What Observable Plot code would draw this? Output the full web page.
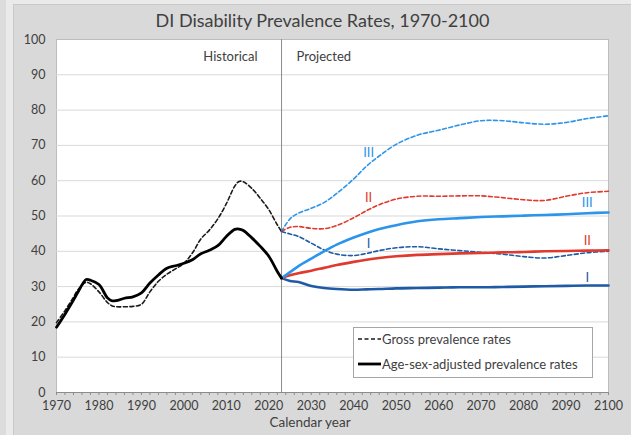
<!DOCTYPE html>
<html>
<head>
<meta charset="utf-8">
<script src="https://cdn.jsdelivr.net/npm/d3@7"></script>
<script src="https://cdn.jsdelivr.net/npm/@observablehq/plot@0.6"></script>
<style>
  html, body { margin: 0; padding: 0; }
  body { width: 631px; height: 435px; background: #dcdcdc; position: relative; overflow: hidden; font-family: Lato, "Open Sans", sans-serif; }
  #strip { position: absolute; left: 6px; top: 0; width: 7px; height: 435px; background: #eaeaea; }
  #panel { position: absolute; left: 13px; top: 4px; width: 618px; height: 431px; background: #d9d9d9; border-left: 1px solid #c9c9c9; border-top: 1px solid #c9c9c9; }
  #topstrip { position: absolute; left: 13px; top: 0; width: 618px; height: 4px; background: #eaeaea; }
  #title { position: absolute; left: 14px; width: 617px; top: 9px; text-align: center; font-size: 18px; color: #404040; }
  #xlabel { position: absolute; left: 210px; width: 200px; top: 414px; text-align: center; font-size: 13.5px; color: #404040; }
  #chart { position: absolute; left: 0; top: 0; }
  #legend { position: absolute; left: 353px; top: 327px; width: 238px; height: 49px; background: #fff; border: 1px solid #a6a6a6; font-size: 13px; color: #404040; }
  .row { position: absolute; left: 3px; display: flex; align-items: center; }
  .row svg { margin-right: 1px; }
</style>
</head>
<body>
<div id="strip"></div>
<div id="topstrip"></div>
<div id="panel"></div>
<div id="chart"></div>
<div id="title">DI Disability Prevalence Rates, 1970-2100</div>
<div id="xlabel">Calendar year</div>
<div id="legend">
  <div class="row" style="top:3px"><svg width="24" height="16"><line x1="1" x2="24" y1="8" y2="8" stroke="#1a1a1a" stroke-width="1.6" stroke-dasharray="4,2.5"/></svg><span>Gross prevalence rates</span></div>
  <div class="row" style="top:28px"><svg width="24" height="16"><line x1="1" x2="24" y1="8" y2="8" stroke="#000" stroke-width="2.8"/></svg><span>Age-sex-adjusted prevalence rates</span></div>
</div>
<script>
// ---- Data ----
const histYears = [1970,1972,1974,1975,1977,1978,1980,1982,1983,1984,1986,1988,1990,1992,1994,1996,1998,2000,2002,2004,2006,2008,2010,2012,2013,2014,2016,2018,2020,2022,2023];
const histGross = [19.8,23.2,27.0,29.0,31.2,30.8,28.5,25.5,24.6,24.3,24.3,24.4,25.0,28.5,31.5,33.5,35.0,36.6,39.5,43.5,46.0,49.2,53.5,58.5,59.8,59.7,57.8,55.0,51.8,47.5,45.6];
const histAdj   = [18.5,22.2,26.2,28.3,32.0,31.8,30.6,26.8,26.0,26.0,26.7,27.1,28.2,31.0,33.3,35.2,35.9,36.6,37.6,39.3,40.3,41.6,44.2,46.2,46.3,45.9,43.8,41.4,38.6,34.3,32.4];

const projYears  = [2023,2025,2027,2030,2033,2036,2040,2043,2046,2050,2055,2060,2065,2070,2075,2080,2085,2090,2095,2100];
const grossI   = [45.6,44.9,44.2,42.3,40.4,39.2,38.8,39.4,40.2,41.0,41.3,40.7,40.2,39.7,39.2,38.5,38.1,38.8,39.6,40.0];
const grossII  = [45.6,46.8,47.0,46.5,46.4,47.3,49.5,51.5,53.2,54.8,55.6,55.6,55.7,55.7,55.2,54.6,54.4,55.6,56.6,57.0];
const grossIII = [45.6,49.2,50.8,52.2,53.8,56.4,60.5,64.1,67.0,70.3,72.9,74.3,75.8,77.0,77.0,76.4,76.0,76.5,77.6,78.4];
const adjI     = [32.4,31.6,31.3,30.2,29.6,29.3,29.1,29.2,29.3,29.5,29.6,29.7,29.8,29.8,29.9,30.0,30.1,30.2,30.3,30.3];
const adjII    = [32.4,33.2,33.8,34.5,35.3,36.1,37.0,37.6,38.1,38.6,39.0,39.2,39.4,39.5,39.7,39.8,40.0,40.1,40.2,40.3];
const adjIII   = [32.4,34.1,35.8,37.9,40.0,41.9,43.9,45.2,46.3,47.4,48.5,49.1,49.4,49.7,49.9,50.1,50.3,50.5,50.8,51.0];

const xTicks = [1970,1980,1990,2000,2010,2020,2030,2040,2050,2060,2070,2080,2090,2100];
const yTicks = [0,10,20,30,40,50,60,70,80,90,100];
const splitYear = 2023;

const labelText  = ["III","II","I","III","II","I"];
const labelYear  = [2043.5,2043.5,2043.5,2095,2095,2095];
const labelValue = [67.9,55.2,42.1,53.7,43.0,32.5];
const labelColor = ["#2c94ea","#e03a2e","#1f5aa6","#2c94ea","#e03a2e","#1f5aa6"];

// ---- Build tables ----
const rows = (years, vals) => years.map((year, i) => ({year, value: vals[i]}));
const labels = labelText.map((t, i) => ({t, year: labelYear[i], value: labelValue[i], c: labelColor[i]}));

const dash = "4,2.5";
const curve = "catmull-rom";

const chart = Plot.plot({
  width: 631,
  height: 435,
  marginLeft: 56,
  marginRight: 23,
  marginTop: 39,
  marginBottom: 43,
  style: {fontFamily: "Lato, 'Open Sans', sans-serif", fontSize: "12px", color: "#404040", background: "transparent", overflow: "visible"},
  x: {domain: [1970, 2100]},
  y: {domain: [0, 100]},
  marks: [
    Plot.frame({fill: "white", stroke: "#bdbdbd"}),
    Plot.gridY(yTicks.filter(v => v > 0 && v < 100), {stroke: "#d9d9d9", strokeOpacity: 1}),
    Plot.ruleX([splitYear], {stroke: "#8c8c8c", strokeWidth: 1}),
    Plot.ruleY([0], {stroke: "#8c8c8c"}),
    Plot.axisX(d3.range(1970, 2101, 2), {tickSize: 3, text: null, stroke: "#8c8c8c", label: null}),
    Plot.axisX(xTicks, {tickSize: 0, tickPadding: 9, tickFormat: "d", fill: "#404040", fontSize: 12.5, label: null}),
    Plot.axisY(yTicks, {tickSize: 0, tickPadding: 11, fill: "#404040", fontSize: 12.5, label: null}),
    Plot.text(["Historical"], {x: splitYear, y: 95, dx: -24, textAnchor: "end", fill: "#404040", fontSize: 13}),
    Plot.text(["Projected"], {x: splitYear, y: 95, dx: 15, textAnchor: "start", fill: "#404040", fontSize: 13}),
    // gross (dashed)
    Plot.line(rows(histYears, histGross), {x: "year", y: "value", stroke: "#1a1a1a", strokeWidth: 1.6, strokeDasharray: dash, curve}),
    Plot.line(rows(projYears, grossIII), {x: "year", y: "value", stroke: "#2c94ea", strokeWidth: 1.6, strokeDasharray: dash, curve}),
    Plot.line(rows(projYears, grossII), {x: "year", y: "value", stroke: "#e03a2e", strokeWidth: 1.6, strokeDasharray: dash, curve}),
    Plot.line(rows(projYears, grossI), {x: "year", y: "value", stroke: "#1f5aa6", strokeWidth: 1.6, strokeDasharray: dash, curve}),
    // age-sex-adjusted (solid)
    Plot.line(rows(projYears, adjI), {x: "year", y: "value", stroke: "#1f5aa6", strokeWidth: 2.6, curve}),
    Plot.line(rows(projYears, adjII), {x: "year", y: "value", stroke: "#e03a2e", strokeWidth: 2.6, curve}),
    Plot.line(rows(projYears, adjIII), {x: "year", y: "value", stroke: "#2c94ea", strokeWidth: 2.6, curve}),
    Plot.line(rows(histYears, histAdj), {x: "year", y: "value", stroke: "#000", strokeWidth: 2.8, curve}),
    Plot.text(labels, {x: "year", y: "value", text: "t", fill: "c", fontSize: 13})
  ]
});
document.getElementById("chart").appendChild(chart);
</script>
</body>
</html>
